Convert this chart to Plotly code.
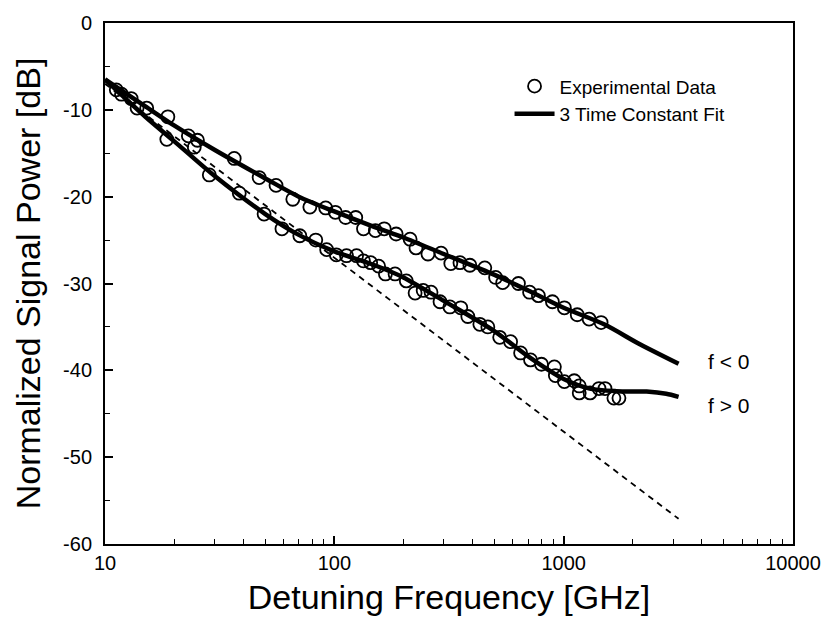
import plotly.graph_objects as go

# ---- data ----
neg_freq = [11.2, 13.0, 15.2, 18.8, 23.1, 25.3, 36.6, 47.0, 55.7, 65.9, 78.2, 91.7, 101, 112, 124, 134,
            151, 165, 186, 214, 227, 256, 292, 322, 353, 390, 453, 505, 542, 635, 710, 776, 893,
            1007, 1146, 1291, 1456]
neg_db = [-7.7, -8.7, -9.8, -10.8, -13.0, -13.5, -15.6, -17.8, -18.7, -20.3, -21.2, -21.3, -21.8, -22.4,
          -22.4, -23.7, -23.9, -23.7, -24.3, -24.9, -25.9, -26.6, -26.5, -27.7, -27.6, -27.9, -28.2,
          -29.3, -29.9, -30.0, -31.0, -31.4, -32.1, -32.8, -33.6, -34.1, -34.5]

pos_freq = [11.8, 13.8, 18.6, 24.5, 28.5, 38.5, 49.4, 59.1, 70.7, 83.0, 92.6, 102, 113, 125, 134, 144,
            156, 167, 184, 206, 225, 244, 264, 289, 319, 356, 382, 431, 467, 526, 587, 649, 717, 800,
            911, 920, 1007, 1112, 1169, 1169, 1304, 1426, 1514, 1656, 1742]
pos_db = [-8.2, -9.8, -13.4, -14.3, -17.5, -19.6, -22.0, -23.7, -24.5, -25.0, -26.1, -26.7, -26.8, -26.8,
          -27.4, -27.6, -28.0, -28.9, -28.9, -29.7, -31.1, -30.8, -31.0, -32.1, -32.7, -32.8, -33.8,
          -34.7, -35.0, -36.2, -36.7, -38.0, -38.8, -39.3, -39.6, -40.6, -41.3, -41.2, -41.8, -42.6,
          -42.6, -42.1, -42.1, -43.2, -43.2]

fit_neg_freq = [10, 15, 20, 30, 50, 70, 100, 150, 200, 300, 500, 700, 1000, 1500, 2150, 3170]
fit_neg_db = [-6.5, -9.6, -11.8, -14.6, -17.9, -20.0, -21.7, -23.5, -24.7, -26.6, -29.0, -30.8, -32.8,
              -34.7, -37.0, -39.25]

fit_pos_freq = [10, 15, 20, 30, 50, 70, 100, 150, 200, 300, 500, 700, 1000, 1300, 1700, 2300, 2800, 3170]
fit_pos_db = [-6.5, -10.8, -13.6, -17.6, -22.0, -24.4, -26.3, -27.9, -29.3, -32.0, -35.5, -38.4, -41.0,
              -42.1, -42.4, -42.45, -42.7, -43.05]

ref_freq = [10, 3170]
ref_db = [-7.0, -57.1]

x_tickvals = [10, 100, 1000, 10000]
x_ticktext = ["10", "100", "1000", "10000"]
y_tickvals = [0, -10, -20, -30, -40, -50, -60]
y_ticktext = ["0", "-10", "-20", "-30", "-40", "-50", "-60"]
x_minor = [m * d for d in (10, 100, 1000) for m in range(2, 10)]
y_minor = [-5, -15, -25, -35, -45, -55]

FONT = "Liberation Sans, Arial, Helvetica, sans-serif"

fig = go.Figure()

fig.add_trace(go.Scatter(x=ref_freq, y=ref_db, mode="lines", showlegend=False,
                         line=dict(color="black", width=1.8, dash="6px,5px")))
fig.add_trace(go.Scatter(x=neg_freq, y=neg_db, mode="markers", name="Experimental Data",
                         marker=dict(symbol="circle-open", size=13, color="black",
                                     line=dict(width=1.8, color="black"))))
fig.add_trace(go.Scatter(x=pos_freq, y=pos_db, mode="markers", showlegend=False,
                         marker=dict(symbol="circle-open", size=13, color="black",
                                     line=dict(width=1.8, color="black"))))
fig.add_trace(go.Scatter(x=fit_neg_freq, y=fit_neg_db, mode="lines", name="3 Time Constant Fit",
                         line=dict(color="black", width=4.5, shape="spline", smoothing=0.8)))
fig.add_trace(go.Scatter(x=fit_pos_freq, y=fit_pos_db, mode="lines", showlegend=False,
                         line=dict(color="black", width=4.5, shape="spline", smoothing=0.8)))

fig.add_annotation(x=3.718, y=-39.0, text="f < 0", showarrow=False,
                   font=dict(family=FONT, size=21, color="black"))
fig.add_annotation(x=3.718, y=-44.1, text="f > 0", showarrow=False,
                   font=dict(family=FONT, size=21, color="black"))

fig.update_layout(
    width=833, height=624,
    margin=dict(l=105, r=36, t=12, b=80),
    paper_bgcolor="white", plot_bgcolor="white",
    font=dict(family=FONT, color="black"),
    legend=dict(x=0.588, y=0.915, xanchor="left", yanchor="top",
                bgcolor="rgba(0,0,0,0)", font=dict(family=FONT, size=19),
                tracegroupgap=0, itemwidth=40),
)
fig.update_xaxes(
    type="log", range=[1, 4],
    tickvals=x_tickvals, ticktext=x_ticktext,
    ticks="inside", ticklen=8, tickwidth=1.5, tickcolor="black",
    minor=dict(tickvals=x_minor, ticks="inside", ticklen=5, tickwidth=1.2, tickcolor="black"),
    showline=True, linecolor="black", linewidth=2, mirror=True,
    showgrid=False, zeroline=False,
    tickfont=dict(family=FONT, size=20),
    title=dict(text="Detuning Frequency [GHz]", font=dict(family=FONT, size=34), standoff=12),
)
fig.update_yaxes(
    range=[-60, 0],
    tickvals=y_tickvals, ticktext=y_ticktext,
    ticks="inside", ticklen=8, tickwidth=1.5, tickcolor="black",
    minor=dict(tickvals=y_minor, ticks="inside", ticklen=5, tickwidth=1.2, tickcolor="black"),
    showline=True, linecolor="black", linewidth=2, mirror=True,
    showgrid=False, zeroline=False,
    ticklabelstandoff=7,
    tickfont=dict(family=FONT, size=20),
    title=dict(text="Normalized Signal Power [dB]", font=dict(family=FONT, size=34), standoff=12),
)

fig.write_html("out.html")
